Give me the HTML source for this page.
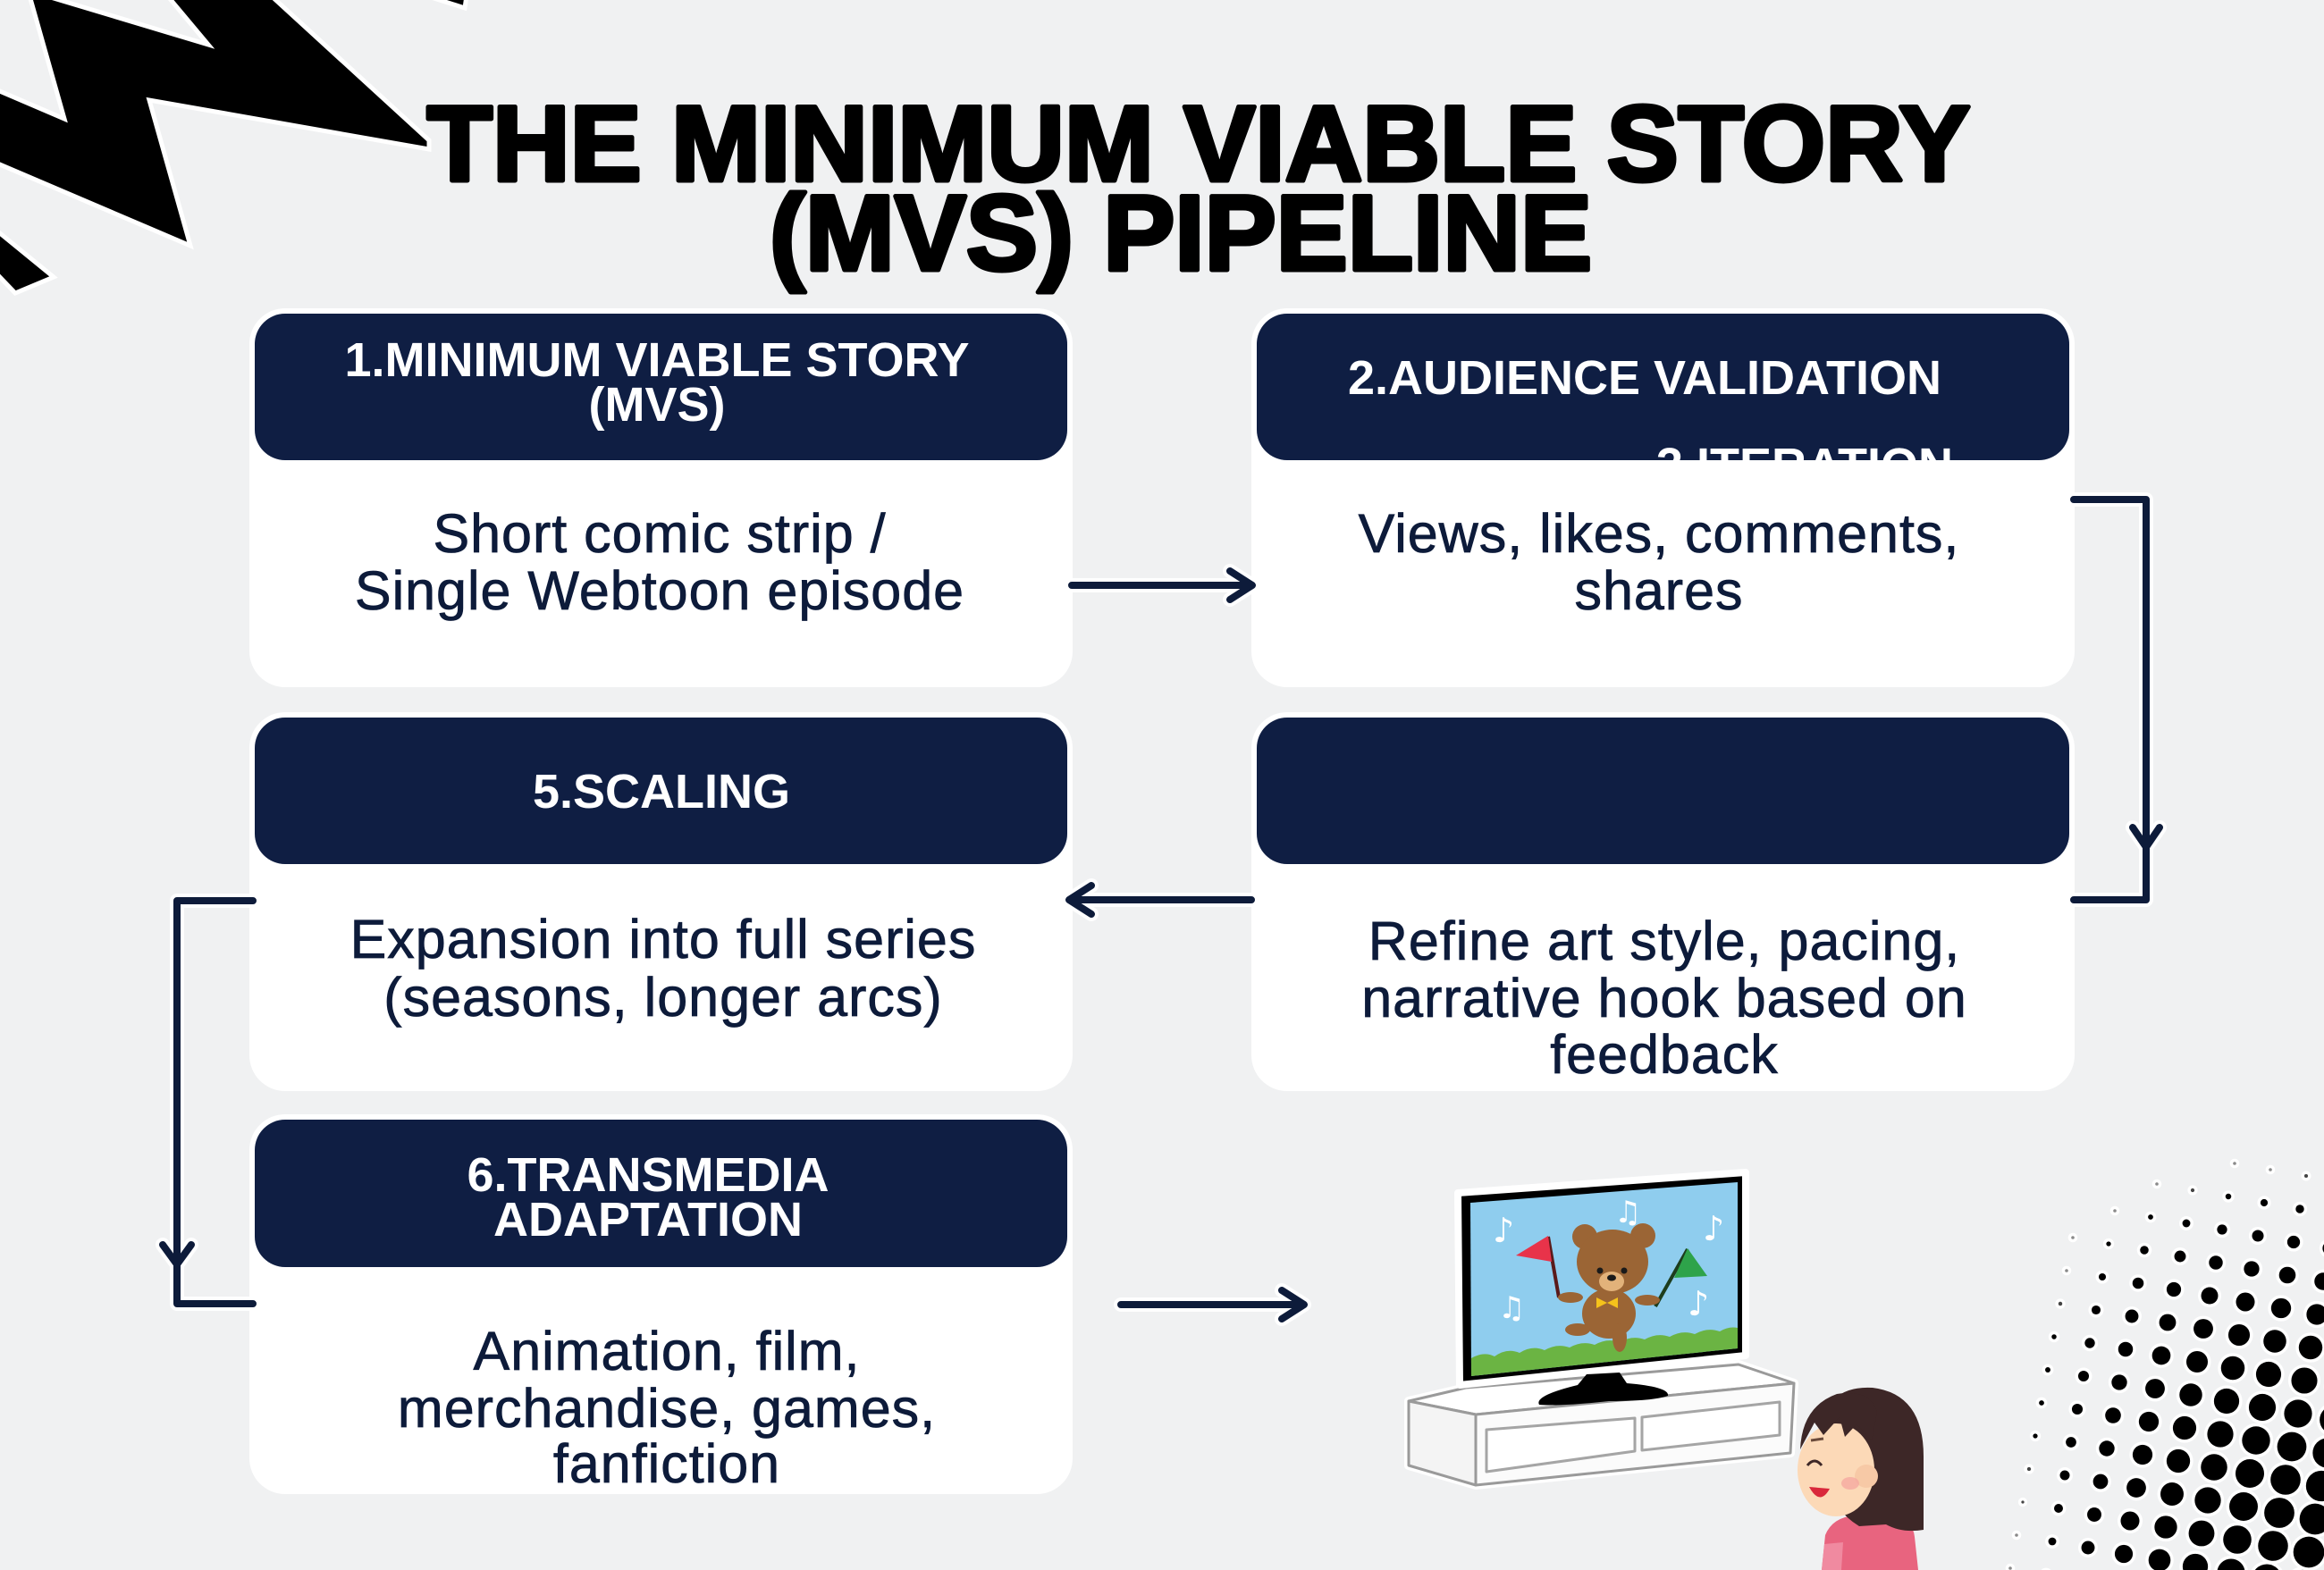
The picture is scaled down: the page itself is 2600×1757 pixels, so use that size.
<!DOCTYPE html>
<html>
<head>
<meta charset="utf-8">
<style>
html,body{margin:0;padding:0;background:#f0f1f2;}
body{width:2600px;height:1757px;overflow:hidden;}
svg{display:block;}
.hd{font-family:"Liberation Sans",Arial,sans-serif;font-weight:700;font-size:54px;fill:#ffffff;}
.bd{font-family:"Liberation Sans",Arial,sans-serif;font-size:61px;fill:#0d1b3a;letter-spacing:1px;stroke:#0d1b3a;stroke-width:0.8px;}
.tt{font-family:"Liberation Sans",Arial,sans-serif;font-weight:700;font-size:120px;fill:#000;stroke:#000;stroke-width:5px;stroke-linejoin:round;}
</style>
</head>
<body>
<svg width="2600" height="1757" viewBox="0 0 2600 1757" xmlns="http://www.w3.org/2000/svg">
<rect x="0" y="0" width="2600" height="1757" fill="#f0f1f2"/>

<!-- zigzag -->
<g fill="#000" stroke="#fff" stroke-width="5" stroke-linejoin="miter">
<polygon points="33,-5 50,-5 233,50 187,-5 303,-5 480,157 480,167 167,112 213,275 -5,182 -5,100 72,133"/>
<polygon points="-5,257 60,310 17,328 -5,305"/>
<polygon points="476,-5 522,-5 520,9"/>
</g>

<!-- title -->
<text class="tt" x="1341" y="202" text-anchor="middle">THE MINIMUM VIABLE STORY</text>
<text class="tt" x="1321" y="302" text-anchor="middle">(MVS) PIPELINE</text>

<!-- boxes -->
<g>
<rect x="279" y="345" width="921" height="424" rx="40" fill="#fff"/>
<rect x="285" y="351" width="909" height="164" rx="34" fill="#0f1e43"/>
<rect x="1400" y="345" width="921" height="424" rx="40" fill="#fff"/>
<rect x="1406" y="351" width="909" height="164" rx="34" fill="#0f1e43"/>
<rect x="279" y="797" width="921" height="424" rx="40" fill="#fff"/>
<rect x="285" y="803" width="909" height="164" rx="34" fill="#0f1e43"/>
<rect x="1400" y="797" width="921" height="424" rx="40" fill="#fff"/>
<rect x="1406" y="803" width="909" height="164" rx="34" fill="#0f1e43"/>
<rect x="279" y="1247" width="921" height="425" rx="40" fill="#fff"/>
<rect x="285" y="1253" width="909" height="165" rx="34" fill="#0f1e43"/>
</g>

<!-- header texts -->
<text class="hd" x="735" y="421" text-anchor="middle">1.MINIMUM VIABLE STORY</text>
<text class="hd" x="735" y="471" text-anchor="middle">(MVS)</text>
<text class="hd" x="1840" y="441" text-anchor="middle">2.AUDIENCE VALIDATION</text>
<text class="hd" x="2185" y="539" text-anchor="end">3.ITERATION</text>
<text class="hd" x="740" y="904" text-anchor="middle">5.SCALING</text>
<text class="hd" x="725" y="1333" text-anchor="middle">6.TRANSMEDIA</text>
<text class="hd" x="725" y="1383" text-anchor="middle">ADAPTATION</text>

<!-- body texts -->
<text class="bd" x="738" y="618" text-anchor="middle">Short comic strip /</text>
<text class="bd" x="738" y="682" text-anchor="middle">Single Webtoon episode</text>
<text class="bd" x="1856" y="618" text-anchor="middle">Views, likes, comments,</text>
<text class="bd" x="1856" y="682" text-anchor="middle">shares</text>
<text class="bd" x="742" y="1072" text-anchor="middle">Expansion into full series</text>
<text class="bd" x="742" y="1137" text-anchor="middle">(seasons, longer arcs)</text>
<text class="bd" x="1862" y="1074" text-anchor="middle">Refine art style, pacing,</text>
<text class="bd" x="1862" y="1138" text-anchor="middle">narrative hook based on</text>
<text class="bd" x="1862" y="1201" text-anchor="middle">feedback</text>
<text class="bd" x="746" y="1533" text-anchor="middle">Animation, film,</text>
<text class="bd" x="746" y="1597" text-anchor="middle">merchandise, games,</text>
<text class="bd" x="746" y="1659" text-anchor="middle">fanfiction</text>

<!-- connectors halo -->
<g fill="none" stroke="#ffffff" stroke-width="16" stroke-linecap="round" stroke-linejoin="round" opacity="0.9">
<path d="M1199,655 H1400 M1376,639 L1401,655 L1376,671"/>
<path d="M2320,559 H2401 V1007 H2320 M2386,926 L2401,948 L2416,926"/>
<path d="M1400,1007 H1197 M1221,991 L1196,1007 L1221,1023"/>
<path d="M283,1008 H198 V1459 H283 M182,1393 L198,1415 L214,1393"/>
<path d="M1254,1460 H1458 M1434,1444 L1459,1460 L1434,1476"/>
</g>
<g fill="none" stroke="#0d1b3a" stroke-width="8" stroke-linecap="round" stroke-linejoin="round">
<path d="M1199,655 H1400 M1376,639 L1401,655 L1376,671"/>
<path d="M2320,559 H2401 V1007 H2320 M2386,926 L2401,948 L2416,926"/>
<path d="M1400,1007 H1197 M1221,991 L1196,1007 L1221,1023"/>
<path d="M283,1008 H198 V1459 H283 M182,1393 L198,1415 L214,1393"/>
<path d="M1254,1460 H1458 M1434,1444 L1459,1460 L1434,1476"/>
</g>

<!-- TV cabinet -->
<g stroke-linejoin="round">
<polygon points="1576,1568 1640,1553 1945,1527 2007,1548 2003,1626 1651,1662 1576,1640" fill="#fff" stroke="#fff" stroke-width="10"/>
<polygon points="1576,1568 1640,1553 1945,1527 2007,1548 1651,1583" fill="#ffffff" stroke="#9a9a9a" stroke-width="3"/>
<polygon points="1651,1583 2007,1548 2003,1626 1651,1662" fill="#fbfbfb" stroke="#9a9a9a" stroke-width="3"/>
<polygon points="1576,1568 1651,1583 1651,1662 1576,1640" fill="#f4f4f4" stroke="#9a9a9a" stroke-width="3"/>
<polygon points="1663,1600 1829,1587 1829,1624 1663,1647" fill="#fff" stroke="#a5a5a5" stroke-width="3"/>
<polygon points="1837,1586 1991,1569 1991,1606 1837,1623" fill="#fff" stroke="#a5a5a5" stroke-width="3"/>
</g>
<!-- TV -->
<g>
<polygon points="1631,1335 1953,1312 1953,1517 1633,1550" fill="#000" stroke="#fff" stroke-width="8" stroke-linejoin="round"/>
<polygon points="1645,1346 1944,1323 1944,1509 1646,1540" fill="#8fcdee"/>
<path d="M1646,1520 Q1660,1512 1672,1518 Q1686,1508 1700,1514 Q1714,1505 1728,1511 Q1742,1503 1756,1508 Q1770,1500 1784,1505 Q1798,1497 1812,1502 Q1826,1494 1840,1499 Q1854,1491 1868,1496 Q1882,1488 1896,1493 Q1910,1485 1924,1490 Q1934,1484 1944,1486 L1944,1509 L1646,1540 Z" fill="#6bb443"/>
<path d="M1775,1538 L1812,1536 L1820,1548 Q1868,1552 1866,1562 Q1850,1568 1800,1568 Q1745,1574 1722,1572 Q1716,1562 1765,1550 Z" fill="#000"/>
<!-- music notes -->
<g font-family="DejaVu Sans, sans-serif" fill="#fff" font-size="38">
<text x="1670" y="1390">♪</text>
<text x="1806" y="1368" font-size="34">♫</text>
<text x="1905" y="1388">♪</text>
<text x="1676" y="1475" font-size="34">♫</text>
<text x="1888" y="1472">♪</text>
</g>
<!-- flags -->
<line x1="1732" y1="1384" x2="1744" y2="1452" stroke="#5a1a1a" stroke-width="4"/>
<polygon points="1696,1405 1732,1383 1736,1412" fill="#e8334a"/>
<line x1="1888" y1="1398" x2="1852" y2="1462" stroke="#1d3d1d" stroke-width="4"/>
<polygon points="1888,1397 1910,1428 1873,1430" fill="#2ea34a"/>
<!-- bear -->
<g fill="#9b6535">
<circle cx="1773" cy="1384" r="14"/>
<circle cx="1838" cy="1383" r="14"/>
<ellipse cx="1804" cy="1412" rx="40" ry="36"/>
<ellipse cx="1800" cy="1470" rx="30" ry="28"/>
<ellipse cx="1812" cy="1497" rx="8" ry="16"/>
<ellipse cx="1765" cy="1488" rx="14" ry="7"/>
<ellipse cx="1757" cy="1452" rx="14" ry="6"/>
<ellipse cx="1843" cy="1455" rx="14" ry="6"/>
</g>
<ellipse cx="1803" cy="1434" rx="14" ry="11" fill="#e2b27a"/>
<circle cx="1790" cy="1422" r="3.5" fill="#1a1a1a"/>
<circle cx="1817" cy="1422" r="3.5" fill="#1a1a1a"/>
<ellipse cx="1803" cy="1430" rx="5" ry="3.5" fill="#1a1a1a"/>
<polygon points="1786,1452 1798,1458 1786,1464" fill="#f5c21b"/>
<polygon points="1810,1452 1798,1458 1810,1464" fill="#f5c21b"/>
</g>

<!-- girl -->
<g>
<path d="M2038,1757 L2042,1718 Q2050,1698 2075,1696 L2115,1696 Q2140,1700 2142,1720 L2146,1757 Z" fill="#e8647f"/>
<path d="M2038,1757 L2041,1728 L2062,1726 L2060,1757 Z" fill="#f08aa0"/>
<path d="M2040,1605 Q2040,1550 2095,1553 Q2152,1560 2152,1630 L2152,1712 Q2128,1716 2110,1706 L2080,1708 Q2050,1690 2040,1650 Z" fill="#3d2727"/>
<ellipse cx="2054" cy="1645" rx="43" ry="52" fill="#fcd9b7"/>
<circle cx="2088" cy="1652" r="13" fill="#f7c9a6"/>
<path d="M2014,1622 Q2016,1574 2055,1560 Q2092,1554 2100,1580 L2094,1612 L2077,1594 L2064,1608 L2058,1586 L2040,1606 L2030,1592 Z" fill="#3d2727"/>
<path d="M2022,1640 Q2030,1630 2038,1640" stroke="#3d2727" stroke-width="3" fill="none"/>
<path d="M2026,1612 L2040,1610" stroke="#6a4a3a" stroke-width="3"/>
<path d="M2024,1664 Q2036,1686 2047,1666 Z" fill="#d9283b"/>
<ellipse cx="2070" cy="1660" rx="10" ry="7" fill="#f5a9a0" opacity="0.8"/>
</g>

<!-- halftone -->
<g id="ht"></g>
</svg>
<script>
(function(){
var g=document.getElementById('ht');
var ns='http://www.w3.org/2000/svg';
var ox=2590, oy=1700;
var halos=[], dots=[];
for(var i=-16;i<=6;i++){
 for(var j=-16;j<=6;j++){
  var x=ox+i*40-j*7, y=oy+i*7+j*37;
  if(x<2180||x>2650||y<1240||y>1800) continue;
  var dx=Math.abs(x-2620)/375, dy=Math.abs(y-1720)/430;
  var e=Math.pow(Math.pow(dx,3)+Math.pow(dy,3),1/3);
  if(e>=1) continue;
  var r=17.5*(1-e*e);
  var col='#000';
  if(r<1.6){r=1.8;col='#8a8a8a';}
  else if(r<2.6){col='#444';}
  halos.push([x,y,r+3.5]);
  dots.push([x,y,r,col]);
 }
}
halos.forEach(function(h){var c=document.createElementNS(ns,'circle');c.setAttribute('cx',h[0]);c.setAttribute('cy',h[1]);c.setAttribute('r',h[2]);c.setAttribute('fill','#ffffff');g.appendChild(c);});
dots.forEach(function(d){var c=document.createElementNS(ns,'circle');c.setAttribute('cx',d[0]);c.setAttribute('cy',d[1]);c.setAttribute('r',d[2]);c.setAttribute('fill',d[3]);g.appendChild(c);});
})();
</script>
</body>
</html>
